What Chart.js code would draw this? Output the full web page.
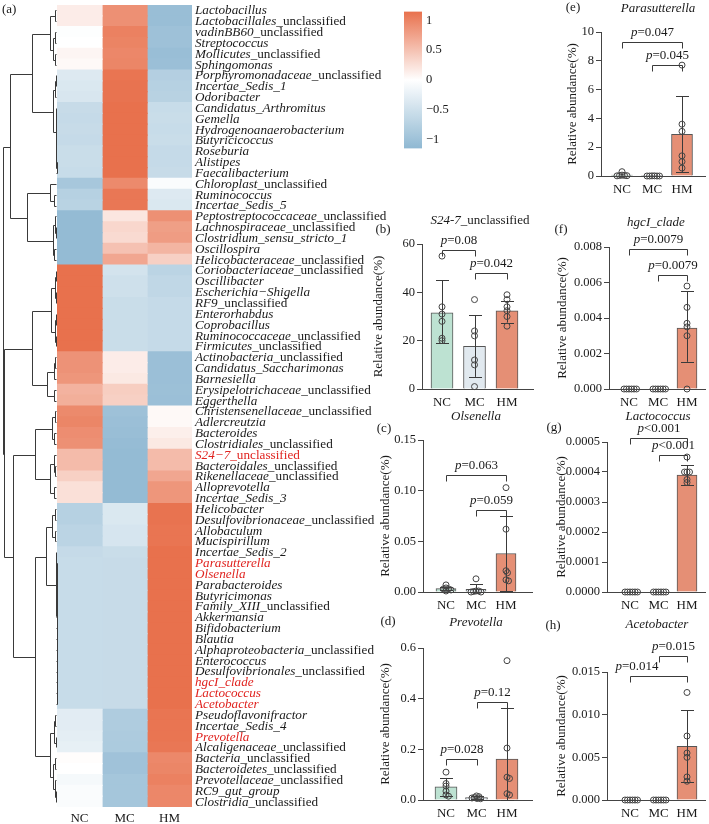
<!DOCTYPE html>
<html><head><meta charset="utf-8">
<script src="https://cdn.jsdelivr.net/npm/chart.js@4.4.1/dist/chart.umd.min.js"></script>
<style>
html,body{margin:0;padding:0;background:#fff;}
#wrap{position:relative;width:709px;height:824px;overflow:hidden;background:#fff;}
canvas{position:absolute;}
</style></head><body><div id="wrap"></div>
<script>
// ---------------- DATA ----------------
const groups = ['NC', 'MC', 'HM'];
const rowNames = ['Lactobacillus','Lactobacillales_unclassified','vadinBB60_unclassified','Streptococcus','Mollicutes_unclassified','Sphingomonas','Porphyromonadaceae_unclassified','Incertae_Sedis_1','Odoribacter','Candidatus_Arthromitus','Gemella','Hydrogenoanaerobacterium','Butyricicoccus','Roseburia','Alistipes','Faecalibacterium','Chloroplast_unclassified','Ruminococcus','Incertae_Sedis_5','Peptostreptococcaceae_unclassified','Lachnospiraceae_unclassified','Clostridium_sensu_stricto_1','Oscillospira','Helicobacteraceae_unclassified','Coriobacteriaceae_unclassified','Oscillibacter','Escherichia\u2212Shigella','RF9_unclassified','Enterorhabdus','Coprobacillus','Ruminococcaceae_unclassified','Firmicutes_unclassified','Actinobacteria_unclassified','Candidatus_Saccharimonas','Barnesiella','Erysipelotrichaceae_unclassified','Eggerthella','Christensenellaceae_unclassified','Adlercreutzia','Bacteroides','Clostridiales_unclassified','S24\u22127_unclassified','Bacteroidales_unclassified','Rikenellaceae_unclassified','Alloprevotella','Incertae_Sedis_3','Helicobacter','Desulfovibrionaceae_unclassified','Allobaculum','Mucispirillum','Incertae_Sedis_2','Parasutterella','Olsenella','Parabacteroides','Butyricimonas','Family_XIII_unclassified','Akkermansia','Bifidobacterium','Blautia','Alphaproteobacteria_unclassified','Enterococcus','Desulfovibrionales_unclassified','hgcI_clade','Lactococcus','Acetobacter','Pseudoflavonifractor','Incertae_Sedis_4','Prevotella','Alcaligenaceae_unclassified','Bacteria_unclassified','Bacteroidetes_unclassified','Prevotellaceae_unclassified','RC9_gut_group','Clostridia_unclassified'];
const redRows = ['S24\u22127_unclassified','Parasutterella','Olsenella','hgcI_clade','Lactococcus','Acetobacter','Prevotella'];

// row z-scores, one array per group
const zNC = [0.15,0.15,-0.02,0,0.08,0.05,-0.35,-0.38,-0.4,-0.58,-0.6,-0.58,-0.6,-0.55,-0.55,-0.57,-0.9,-0.75,-0.72,-1.1,-1.1,-1.1,-1.1,-1.1,1.15,1.15,1.15,1.15,1.15,1.15,1.15,1.15,0.88,0.88,0.85,0.62,0.65,0.95,0.98,0.92,0.9,0.55,0.55,0.38,0.25,0.25,-0.75,-0.75,-0.7,-0.7,-0.6,-0.57,-0.57,-0.57,-0.57,-0.57,-0.57,-0.57,-0.57,-0.57,-0.57,-0.57,-0.57,-0.57,-0.57,-0.3,-0.3,-0.28,-0.25,0.02,0,-0.1,-0.05,-0.05];
const zMC = [0.9,0.9,1.02,1,0.97,0.98,1.12,1.13,1.13,1.15,1.15,1.15,1.15,1.15,1.15,1.15,0.95,1.1,1.1,0.2,0.32,0.3,0.5,0.72,-0.45,-0.5,-0.5,-0.55,-0.55,-0.55,-0.55,-0.55,0.15,0.15,0.18,0.4,0.38,-1,-1.03,-1.05,-1.08,-1.1,-1.1,-1.1,-1.1,-1.1,-0.38,-0.38,-0.42,-0.42,-0.55,-0.58,-0.58,-0.58,-0.58,-0.58,-0.58,-0.58,-0.58,-0.58,-0.58,-0.58,-0.58,-0.58,-0.58,-0.82,-0.82,-0.84,-0.85,-0.98,-0.98,-0.92,-0.92,-0.92];
const zHM = [-1.05,-1.05,-1,-1,-1.05,-1.03,-0.77,-0.75,-0.73,-0.57,-0.55,-0.57,-0.55,-0.6,-0.6,-0.58,-0.05,-0.35,-0.38,0.9,0.78,0.8,0.6,0.38,-0.7,-0.65,-0.65,-0.6,-0.6,-0.6,-0.6,-0.6,-1.03,-1.03,-1.03,-1.02,-1.03,0.05,0.05,0.13,0.18,0.55,0.55,0.72,0.85,0.85,1.13,1.13,1.12,1.12,1.15,1.15,1.15,1.15,1.15,1.15,1.15,1.15,1.15,1.15,1.15,1.15,1.15,1.15,1.15,1.12,1.12,1.12,1.1,0.96,0.98,1.02,0.97,0.97];
const colorbarTicks = ['1','0.5','0','\u22120.5','\u22121'];
const colorbarRange = [-1.15, 1.15];

// row dendrogram: [mergeHeight, left, right]; leaves = row index
const dendro = [1.0,
  [0.87,
    [0.46,
      [0.13, [0.04,0,1], [0.07,[0.03,2,3],[0.03,4,5]]],
      [0.08, [0.04,[0.02,6,7],8], [0.02,[0.01,9,10],[0.015,[0.01,11,12],[0.01,13,[0.005,14,15]]]]]],
    [0.56,
      [0.13, 16, [0.05,17,18]],
      [0.08, [0.04,19,[0.02,20,21]], [0.05,22,23]]]],
  [0.98,
    [0.46,
      [0.12, [0.04,[0.02,24,25],[0.02,26,27]], [0.03,[0.01,28,29],[0.015,30,31]]],
      [0.19, [0.06,[0.03,32,33],34], [0.05,35,36]]],
    [0.81,
      [0.41,
        [0.1, [0.04,37,38], [0.05,39,40]],
        [0.13, [0.06,41,[0.03,42,43]], [0.05,44,45]]],
      [0.41,
        [0.2, [0.09,[0.04,46,47],[0.03,48,49]],
              [0.02, 50, [0.004,[0.002,[0.001,51,52],[0.001,53,54]],[0.003,[0.001,[0.0005,55,56],[0.0005,57,58]],[0.001,[0.0005,59,60],[0.0005,[0.0003,61,62],[0.0003,63,64]]]]]]],
        [0.13, [0.05,[0.03,65,66],[0.02,67,68]], [0.08,[0.03,69,70],[0.04,71,[0.02,72,73]]]]]]]];

// (b) S24-7_unclassified
const s24Ticks = ['0','20','40','60'];
const s24Mean = [31.5, 17.7, 32.3];
const s24Hi = [45, 30.5, 36.5];
const s24Lo = [19, 5, 27.5];
const s24Pts = [[55,34,31,28,21,20],[37,24,22,12,10,1],[39,37,34,32.4,30,26]];
const s24Tests = [{a:0,b:1,y:57.5,p:'=0.08'},{a:1,b:2,y:47.8,p:'=0.042'}];
// (c) Olsenella
const olsTicks = ['0.00','0.05','0.10','0.15'];
const olsMean = [0.0033, 0.0026, 0.038];
const olsHi = [0.005, 0.0075, 0.075];
const olsLo = [0.0016, 0, 0.001];
const olsPts = [[0.007,0.004,0.003,0.003,0.002,0.001],[0.013,0.001,0.001,0.0005,0,0],[0.103,0.062,0.021,0.019,0.012,0.011]];
const olsTests = [{a:0,b:2,y:0.1155,p:'=0.063'},{a:1,b:2,y:0.081,p:'=0.059'}];
// (d) Prevotella
const prevTicks = ['0.0','0.2','0.4','0.6'];
const prevMean = [0.052, 0.01, 0.162];
const prevHi = [0.087, 0.015, 0.364];
const prevLo = [0.017, 0.005, 0];
const prevPts = [[0.11,0.065,0.055,0.035,0.02,0.015],[0.016,0.013,0.01,0.008,0.006,0.005],[0.55,0.205,0.09,0.085,0.025,0.02]];
const prevTests = [{a:0,b:1,y:0.162,p:'=0.028'},{a:1,b:2,y:0.385,p:'=0.12'}];
// (e) Parasutterella
const paraTicks = ['0','2','4','6','8','10'];
const paraMean = [0.07, 0.005, 2.9];
const paraHi = [null, null, 5.55];
const paraLo = [null, null, 0.25];
const paraPts = [[0.3,0.06,0.04,0.03,0.02,0.01],[0.01,0.01,0,0,0,0],[7.7,3.6,3.1,1.4,1.0,0.55]];
const paraTests = [{a:0,b:2,y:9.33,p:'=0.047'},{a:1,b:2,y:7.71,p:'=0.045'}];
// (f) hgcI_clade
const hgcTicks = ['0.000','0.002','0.004','0.006','0.008'];
const hgcMean = [0, 0, 0.00343];
const hgcHi = [null, null, 0.0055];
const hgcLo = [null, null, 0.00153];
const hgcPts = [[0,0,0,0,0,0],[0,0,0,0,0,0],[0.0058,0.0046,0.0037,0.0035,0.003,0]];
const hgcTests = [{a:0,b:2,y:0.0079,p:'=0.0079'},{a:1,b:2,y:0.00645,p:'=0.0079'}];
// (g) Lactococcus
const lacTicks = ['0.0000','0.0001','0.0002','0.0003','0.0004','0.0005'];
const lacMean = [0, 0, 0.00039];
const lacHi = [null, null, 0.000422];
const lacLo = [null, null, 0.000357];
const lacPts = [[0,0,0,0,0,0],[0,0,0,0,0,0],[0.00045,0.0004,0.0004,0.0004,0.000375,0.000365]];
const lacTests = [{a:0,b:2,y:0.000512,p:'<0.001'},{a:1,b:2,y:0.000456,p:'<0.001'}];
// (h) Acetobacter
const aceTicks = ['0.000','0.005','0.010','0.015'];
const aceMean = [0, 0, 0.0063];
const aceHi = [null, null, 0.0105];
const aceLo = [null, null, 0.0021];
const acePts = [[0,0,0,0,0,0],[0,0,0,0,0,0],[0.0126,0.0075,0.0055,0.005,0.0027,0.0022]];
const aceTests = [{a:1,b:2,y:0.0169,p:'=0.015'},{a:0,b:2,y:0.0145,p:'=0.014'}];

// ---------------- STYLE / HELPERS ----------------
const FONT = 'Liberation Serif';
const RED = '#E0231F';
const INK = '#1a1a1a';
const LINE = '#3a3a3a';
const barFills = ['#BDE2D2', '#E1E9EF', '#E58F75'];
const HI_COL = [232,113,77], LO_COL = [143,184,210];
const wrap = document.getElementById('wrap');

function heatColor(v){
  const t = Math.min(Math.abs(v)/1.15, 1);
  const c = v >= 0 ? HI_COL : LO_COL;
  const m = (k)=>Math.round(255 + (c[k]-255)*t);
  return `rgb(${m(0)},${m(1)},${m(2)})`;
}
function mkCanvas(l,t,w,h){
  const c=document.createElement('canvas');
  c.width=w; c.height=h;
  c.style.left=l+'px'; c.style.top=t+'px'; c.style.width=w+'px'; c.style.height=h+'px';
  wrap.appendChild(c); return c;
}
function nameRuns(name){
  const suf='_unclassified';
  if(name.endsWith(suf)) return [{t:name.slice(0,-suf.length),it:true},{t:suf,it:false}];
  return [{t:name,it:true}];
}
function drawRuns(ctx, runs, x, y, align, size, color){
  let w=0;
  runs.forEach(r=>{ctx.font=(r.it?'italic ':'')+size+'px "'+FONT+'"'; r.w=ctx.measureText(r.t).width; w+=r.w;});
  let sx = align==='center' ? x-w/2 : (align==='right' ? x-w : x);
  ctx.fillStyle=color; ctx.textBaseline='middle'; ctx.textAlign='left';
  runs.forEach(r=>{ctx.font=(r.it?'italic ':'')+size+'px "'+FONT+'"'; ctx.fillText(r.t, sx, y); sx+=r.w;});
}
function swarm(ys, d){
  const order = ys.map((y,i)=>i).sort((a,b)=>ys[a]-ys[b]);
  const placed=[]; const off=new Array(ys.length).fill(0);
  for(const i of order){
    const y=ys[i]; let best=0;
    for(let k=0;k<80;k++){
      const c = k===0?0:(k%2?1:-1)*Math.ceil(k/2)*0.5;
      if(placed.every(p=>Math.hypot(p.x-c,p.y-y)>=d)){best=c;break;}
    }
    placed.push({x:best,y}); off[i]=best;
  }
  return off;
}

// ---------------- HEATMAP ----------------
const heatPlugin = {
  id:'heatExtras',
  afterDraw(chart){
    const ctx=chart.ctx, ys=chart.scales.y, A=chart.chartArea;
    ctx.save();
    rowNames.forEach((n,i)=>{
      const red = redRows.includes(n);
      drawRuns(ctx, nameRuns(n), A.right+3, ys.getPixelForValue(i)+0.5, 'left', 13.2, red?RED:INK);
    });
    ctx.strokeStyle=LINE; ctx.lineWidth=1; ctx.beginPath();
    const dW = A.left-3;
    function node(nd){
      if(typeof nd==='number') return {x:A.left-0.5, y:Math.round(ys.getPixelForValue(nd))+0.5};
      const a=node(nd[1]), b=node(nd[2]);
      const x=Math.round(A.left-nd[0]*dW)+0.5;
      ctx.moveTo(a.x,a.y); ctx.lineTo(x,a.y); ctx.lineTo(x,b.y); ctx.lineTo(b.x,b.y);
      return {x, y:Math.round((a.y+b.y)/2)+0.5};
    }
    node(dendro); ctx.stroke();
    drawRuns(ctx,[{t:'(a)',it:false}],2,10,'left',13,INK);
    ctx.restore();
  }
};
const hmCv = mkCanvas(0,0,398,824);
new Chart(hmCv,{
  type:'bar',
  data:{labels:rowNames, datasets:[zNC,zMC,zHM].map((z,gi)=>({
    label:groups[gi], data:rowNames.map(()=>[gi,gi+1]),
    backgroundColor:z.map(heatColor), borderWidth:0, grouped:false,
    barPercentage:1, categoryPercentage:1, inflateAmount:0.6}))},
  options:{
    indexAxis:'y', responsive:false, animation:false, events:[],
    layout:{autoPadding:false, padding:{left:57,right:398-192,top:5,bottom:0}},
    plugins:{legend:{display:false},tooltip:{enabled:false}},
    scales:{
      y:{type:'category', display:false, offset:true},
      x:{type:'linear', min:0, max:3, offset:false,
        afterBuildTicks:s=>{s.ticks=[0.5,1.5,2.5].map(v=>({value:v}));},
        ticks:{callback:(v,i)=>groups[i], font:{family:FONT,size:13}, color:INK, padding:4, maxRotation:0, autoSkip:false},
        grid:{display:false, drawTicks:false}, border:{display:false},
        afterFit:s=>{s.height=17;}}
    }
  },
  plugins:[heatPlugin]
});

// ---------------- COLOUR BAR ----------------
const cbCv = mkCanvas(398,0,62,160);
new Chart(cbCv,{
  type:'bar',
  data:{labels:[''], datasets:[{data:[colorbarRange], borderWidth:0, barPercentage:1, categoryPercentage:1,
    backgroundColor:(c)=>{
      const A=c.chart.chartArea; if(!A) return '#fff';
      const ys=c.chart.scales.y;
      const g=c.chart.ctx.createLinearGradient(0,ys.getPixelForValue(colorbarRange[1]),0,ys.getPixelForValue(colorbarRange[0]));
      for(let i=0;i<=24;i++){const v=colorbarRange[1]-(colorbarRange[1]-colorbarRange[0])*i/24; g.addColorStop(i/24, heatColor(v));}
      return g;}}]},
  options:{responsive:false, animation:false, events:[],
    layout:{autoPadding:false, padding:{left:6,right:0,top:3,bottom:7}},
    plugins:{legend:{display:false},tooltip:{enabled:false}},
    scales:{
      x:{display:false},
      y:{position:'right', min:colorbarRange[0], max:colorbarRange[1],
        afterBuildTicks:s=>{s.ticks=colorbarTicks.map(t=>({value:Number(t.replace('\u2212','-'))}));},
        ticks:{callback:(v,i)=>colorbarTicks[i], font:{family:FONT,size:12.5}, color:INK, padding:4},
        grid:{display:false, drawTicks:false},
        border:{display:false},
        afterFit:s=>{s.width=38;}}
    }}
});

// ---------------- BAR PANELS ----------------
function panelPlugin(P,D){
  return {id:'panelExtras', afterDraw(chart){
    const ctx=chart.ctx, xs=chart.scales.x, ys=chart.scales.y;
    const ox=P.cl, oy=P.ct;
    ctx.save();
    ctx.strokeStyle=LINE; ctx.lineWidth=1;
    // error bars
    D.hi.forEach((h,i)=>{
      if(h===null) return;
      const x=Math.round(xs.getPixelForValue(i+1))+0.5;
      const y1=ys.getPixelForValue(h), y0=ys.getPixelForValue(D.lo[i]);
      ctx.beginPath();
      ctx.moveTo(x,y0); ctx.lineTo(x,y1);
      ctx.moveTo(x-6.5,Math.round(y1)+0.5); ctx.lineTo(x+6.5,Math.round(y1)+0.5);
      ctx.moveTo(x-6.5,Math.round(y0)+0.5); ctx.lineTo(x+6.5,Math.round(y0)+0.5);
      ctx.stroke();
    });
    // points
    ctx.strokeStyle='#444'; ctx.lineWidth=1;
    D.pts.forEach((arr,i)=>{
      const cx=xs.getPixelForValue(i+1);
      const py=arr.map(v=>ys.getPixelForValue(v));
      const off=swarm(py,2.4);
      py.forEach((y,k)=>{ctx.beginPath(); ctx.arc(cx+off[k],y,3,0,Math.PI*2); ctx.stroke();});
    });
    // significance brackets
    ctx.strokeStyle=LINE;
    D.tests.forEach((t,k)=>{
      const x1=Math.round(xs.getPixelForValue(t.a+1))+0.5, x2=Math.round(xs.getPixelForValue(t.b+1))+0.5;
      const y=Math.round(ys.getPixelForValue(t.y))+0.5;
      ctx.beginPath(); ctx.moveTo(x1,y+6); ctx.lineTo(x1,y); ctx.lineTo(x2,y); ctx.lineTo(x2,y+6); ctx.stroke();
      const dx = (P.labelDx && P.labelDx[k]) || 0;
      drawRuns(ctx,[{t:'p',it:true},{t:t.p,it:false}],(x1+x2)/2+dx,y-10,'center',13,INK);
    });
    // title + letter
    drawRuns(ctx, nameRuns(D.title), P.tx-ox, P.ty-oy, 'center', 13, INK);
    drawRuns(ctx, [{t:P.letter,it:false}], P.lx-ox, P.ly-oy, 'center', 13, INK);
    ctx.restore();
  }};
}
function makePanel(P,D){
  const cv=mkCanvas(P.cl,P.ct,P.cw,P.ch);
  const k=(P.hm-P.nc)/2;
  const xmin=1-(P.nc-P.l)/k, xmax=xmin+(P.r-P.l)/k;
  const tv=D.ticks.map(Number);
  new Chart(cv,{
    type:'scatter',
    data:{datasets:[{type:'bar', data:D.mean.map((m,i)=>({x:i+1,y:m})), backgroundColor:barFills, borderColor:'#555', borderWidth:1, barThickness:P.bw}]},
    options:{responsive:false, animation:false, events:[],
      layout:{autoPadding:false, padding:{left:0, top:P.t-P.ct, right:P.cl+P.cw-P.r, bottom:0}},
      plugins:{legend:{display:false},tooltip:{enabled:false}},
      scales:{
        x:{type:'linear', min:xmin, max:xmax, offset:false, bounds:'data',
          ticks:{includeBounds:false, callback:(v,i)=>groups[i], font:{family:FONT,size:13}, color:INK, padding:P.xpad, maxRotation:0, autoSkip:false},
          afterBuildTicks:s=>{s.ticks=[1,2,3].map(v=>({value:v}));},
          grid:{display:true, offset:false, drawOnChartArea:false, drawTicks:false},
          border:{display:true, color:'#444', width:1, dash:P.dash||[]},
          afterFit:s=>{s.height=P.ct+P.ch-P.b;}},
        y:{type:'linear', min:tv[0], max:tv[tv.length-1],
          afterBuildTicks:s=>{s.ticks=tv.map(v=>({value:v}));},
          ticks:{callback:(v,i)=>D.ticks[i], font:{family:FONT,size:12.5}, color:INK, padding:2},
          grid:{display:true, drawOnChartArea:false, drawTicks:true, tickLength:5, color:'#444'},
          border:{display:true, color:'#444', width:1},
          title:{display:true, text:'Relative abundance(%)', font:{family:FONT,size:13}, color:INK, padding:{top:P.ytx-P.cl-7.8,bottom:0}},
          afterFit:s=>{s.width=P.l-P.cl;}}
      }},
    plugins:[panelPlugin(P,D)]
  });
}

makePanel({cl:360,ct:205,cw:178,ch:210,l:422,t:244,r:533,b:389,nc:442,hm:507,bw:22,xpad:6,tx:480,ty:221,lx:383,ly:230,letter:'(b)',ytx:379},
  {title:'S24-7_unclassified',ticks:s24Ticks,mean:s24Mean,hi:s24Hi,lo:s24Lo,pts:s24Pts,tests:s24Tests});
makePanel({cl:360,ct:410,cw:178,ch:210,l:423,t:440,r:532,b:592,nc:446,hm:506,bw:20,xpad:6,tx:476,ty:417,lx:384,ly:429,letter:'(c)',ytx:386,dash:[2,2]},
  {title:'Olsenella',ticks:olsTicks,mean:olsMean,hi:olsHi,lo:olsLo,pts:olsPts,tests:olsTests});
makePanel({cl:360,ct:615,cw:178,ch:209,l:423,t:648,r:532,b:800,nc:446,hm:507,bw:22,xpad:6,tx:476,ty:623,lx:388,ly:622,letter:'(d)',ytx:386,dash:[2,2]},
  {title:'Prevotella',ticks:prevTicks,mean:prevMean,hi:prevHi,lo:prevLo,pts:prevPts,tests:prevTests});
makePanel({cl:540,ct:0,cw:169,ch:205,l:601,t:32,r:705,b:176,nc:622,hm:682,bw:21,xpad:6,tx:658,ty:9,lx:573,ly:8,letter:'(e)',ytx:573},
  {title:'Parasutterella',ticks:paraTicks,mean:paraMean,hi:paraHi,lo:paraLo,pts:paraPts,tests:paraTests});
makePanel({cl:540,ct:205,cw:169,ch:210,l:609,t:247,r:705,b:389,nc:629,hm:687,bw:20,xpad:6,tx:656,ty:223,lx:561,ly:230,letter:'(f)',ytx:563},
  {title:'hgcI_clade',ticks:hgcTicks,mean:hgcMean,hi:hgcHi,lo:hgcLo,pts:hgcPts,tests:hgcTests});
makePanel({cl:540,ct:410,cw:169,ch:210,l:607,t:442,r:705,b:592,nc:630,hm:687,bw:20,xpad:6,tx:658,ty:417,lx:554,ly:428,letter:'(g)',ytx:562},
  {title:'Lactococcus',ticks:lacTicks,mean:lacMean,hi:lacHi,lo:lacLo,pts:lacPts,tests:lacTests});
makePanel({cl:540,ct:615,cw:169,ch:209,l:607,t:672,r:705,b:800,nc:630,hm:687,bw:20,xpad:6,tx:657,ty:625,lx:553,ly:626,letter:'(h)',ytx:562,labelDx:[0,-22]},
  {title:'Acetobacter',ticks:aceTicks,mean:aceMean,hi:aceHi,lo:aceLo,pts:acePts,tests:aceTests});
</script>
</body></html>
